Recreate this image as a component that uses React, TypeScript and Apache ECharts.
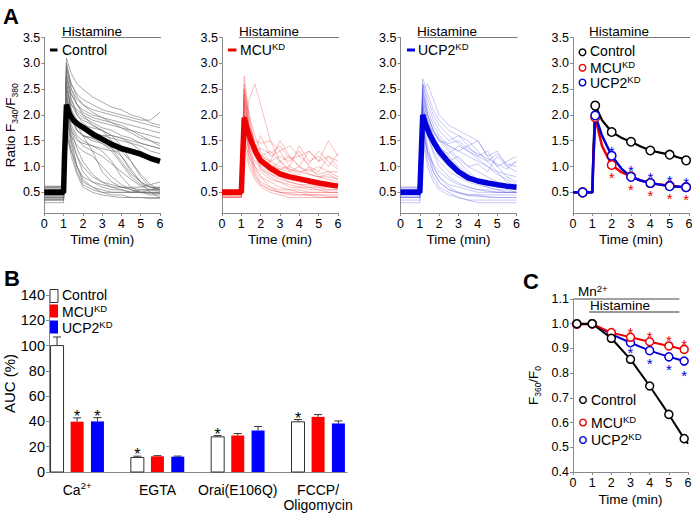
import React, { useEffect, useRef } from "react";
import * as echarts from "echarts";

const FONT = '"Liberation Sans", Arial, Helvetica, sans-serif';
const AXIS_COLOR = "#8a8a8a";

// ---------- Panel A: single-cell traces ----------
const TRACE_TIME = [0, 0.5, 1.0, 1.15, 1.4, 1.7, 2, 2.5, 3, 3.5, 4, 4.5, 5, 5.5, 6];

const controlTraces = [
  [0.55, 0.55, 0.56, 3.1, 2.8, 2.6, 2.5, 2.35, 2.25, 2.15, 2.1, 2.0, 1.95, 1.85, 1.8],
  [0.5, 0.5, 0.5, 2.9, 2.6, 2.4, 2.3, 2.2, 2.1, 2.05, 2.0, 1.95, 1.9, 1.9, 2.05],
  [0.45, 0.45, 0.46, 2.7, 2.4, 2.2, 2.05, 1.95, 1.9, 1.85, 1.8, 1.7, 1.6, 1.5, 1.4],
  [0.6, 0.6, 0.62, 2.5, 2.2, 2.1, 2.0, 1.9, 1.85, 1.8, 1.75, 1.7, 1.65, 1.6, 1.55],
  [0.4, 0.4, 0.4, 2.3, 2.0, 1.9, 1.8, 1.75, 1.7, 1.6, 1.55, 1.45, 1.3, 1.2, 1.15],
  [0.5, 0.5, 0.5, 2.8, 2.3, 2.0, 1.9, 1.8, 1.7, 1.5, 1.2, 0.9, 0.7, 0.6, 0.55],
  [0.35, 0.35, 0.35, 2.2, 1.8, 1.6, 1.5, 1.4, 1.3, 1.1, 0.8, 0.6, 0.5, 0.45, 0.45],
  [0.55, 0.55, 0.55, 2.6, 2.0, 1.7, 1.6, 1.55, 1.45, 1.3, 1.05, 0.8, 0.65, 0.6, 0.6],
  [0.45, 0.45, 0.45, 2.4, 1.6, 1.2, 0.9, 0.7, 0.6, 0.55, 0.55, 0.5, 0.5, 0.5, 0.5],
  [0.3, 0.3, 0.3, 2.0, 1.4, 1.0, 0.75, 0.6, 0.5, 0.45, 0.45, 0.4, 0.4, 0.4, 0.4],
  [0.6, 0.6, 0.6, 2.2, 1.5, 1.0, 0.7, 0.6, 0.55, 0.5, 0.5, 0.5, 0.5, 0.55, 0.6],
  [0.5, 0.5, 0.5, 1.8, 1.3, 0.9, 0.65, 0.55, 0.5, 0.5, 0.5, 0.5, 0.55, 0.55, 0.55],
  [0.4, 0.4, 0.4, 2.6, 2.1, 1.8, 1.6, 1.3, 0.9, 0.7, 0.6, 0.55, 0.5, 0.5, 0.5],
  [0.5, 0.5, 0.5, 3.0, 2.5, 2.2, 2.0, 1.8, 1.7, 1.6, 1.4, 1.1, 0.8, 0.6, 0.55],
  [0.55, 0.55, 0.55, 2.1, 1.7, 1.5, 1.45, 1.4, 1.35, 1.3, 1.3, 1.25, 1.2, 1.15, 1.1],
  [0.45, 0.45, 0.45, 1.6, 1.3, 1.0, 0.8, 0.7, 0.65, 0.6, 0.6, 0.6, 0.6, 0.65, 0.7],
  [0.35, 0.35, 0.35, 2.4, 1.9, 1.7, 1.6, 1.5, 1.45, 1.35, 1.2, 0.95, 0.7, 0.5, 0.4],
  [0.6, 0.6, 0.6, 2.9, 2.5, 2.3, 2.2, 2.1, 2.05, 2.0, 1.95, 1.9, 1.85, 1.8, 1.75],
  [0.5, 0.5, 0.5, 2.5, 2.1, 1.9, 1.75, 1.65, 1.6, 1.55, 1.5, 1.45, 1.4, 1.3, 1.25],
  [0.42, 0.42, 0.42, 2.0, 1.5, 1.2, 1.0, 0.8, 0.7, 0.65, 0.6, 0.58, 0.55, 0.55, 0.55],
  [0.55, 0.55, 0.55, 2.7, 2.3, 2.05, 1.95, 1.85, 1.75, 1.7, 1.6, 1.55, 1.45, 1.4, 1.35],
  [0.38, 0.38, 0.38, 1.9, 1.6, 1.4, 1.3, 1.2, 1.0, 0.8, 0.65, 0.55, 0.5, 0.5, 0.48],
  [0.52, 0.52, 0.52, 2.8, 2.4, 2.2, 2.1, 2.0, 1.95, 1.9, 1.85, 1.8, 1.75, 1.7, 1.65],
  [0.48, 0.48, 0.48, 2.3, 1.9, 1.7, 1.6, 1.55, 1.5, 1.4, 1.3, 1.1, 0.85, 0.65, 0.55],
  [0.58, 0.58, 0.58, 2.6, 2.2, 2.0, 1.85, 1.7, 1.55, 1.35, 1.1, 0.85, 0.7, 0.6, 0.58],
  [0.44, 0.44, 0.44, 2.2, 1.7, 1.35, 1.1, 0.85, 0.7, 0.6, 0.55, 0.5, 0.5, 0.48, 0.48],
  [0.36, 0.36, 0.36, 1.7, 1.2, 0.85, 0.6, 0.5, 0.45, 0.42, 0.4, 0.4, 0.4, 0.38, 0.38],
  [0.62, 0.62, 0.62, 3.0, 2.6, 2.35, 2.2, 2.05, 1.95, 1.85, 1.75, 1.65, 1.55, 1.5, 1.45],
  [0.5, 0.5, 0.5, 2.4, 2.0, 1.8, 1.7, 1.65, 1.6, 1.6, 1.55, 1.5, 1.45, 1.4, 1.35],
  [0.46, 0.46, 0.46, 2.1, 1.75, 1.55, 1.4, 1.3, 1.2, 1.05, 0.9, 0.75, 0.62, 0.55, 0.52],
];

const mcuTraces = [
  [0.5, 0.5, 0.5, 2.75, 2.0, 1.4, 1.1, 0.9, 0.8, 0.7, 0.65, 0.6, 0.6, 0.55, 0.55],
  [0.45, 0.45, 0.5, 1.8, 2.3, 2.6, 2.2, 1.5, 1.1, 0.9, 0.8, 0.75, 0.7, 0.7, 0.65],
  [0.55, 0.55, 0.55, 2.4, 1.8, 1.5, 1.45, 1.5, 1.3, 1.4, 1.2, 1.3, 1.1, 1.2, 1.0],
  [0.4, 0.4, 0.4, 2.2, 1.4, 1.0, 0.8, 0.6, 0.5, 0.45, 0.45, 0.45, 0.4, 0.4, 0.4],
  [0.5, 0.5, 0.5, 2.0, 1.6, 1.3, 1.2, 1.1, 1.5, 1.2, 1.0, 1.3, 1.1, 1.5, 1.2],
  [0.45, 0.45, 0.45, 1.6, 1.1, 0.8, 0.65, 0.55, 0.5, 0.5, 0.5, 0.45, 0.45, 0.45, 0.45],
  [0.55, 0.55, 0.55, 2.5, 2.0, 1.6, 1.3, 1.1, 1.0, 0.95, 0.9, 0.85, 0.8, 0.8, 0.75],
  [0.5, 0.5, 0.5, 1.9, 1.5, 1.3, 1.6, 1.2, 1.3, 1.0, 1.4, 1.1, 1.2, 1.0, 1.25],
  [0.4, 0.4, 0.4, 1.4, 1.0, 0.75, 0.6, 0.5, 0.45, 0.4, 0.4, 0.4, 0.4, 0.4, 0.4],
  [0.5, 0.5, 0.5, 2.3, 1.7, 1.3, 1.0, 0.85, 0.75, 0.7, 0.65, 0.65, 0.6, 0.6, 0.6],
  [0.55, 0.55, 0.55, 2.1, 1.5, 1.2, 1.1, 1.0, 0.95, 1.0, 0.9, 0.95, 0.85, 0.9, 0.8],
  [0.45, 0.45, 0.45, 1.7, 1.3, 1.0, 0.9, 0.75, 0.7, 0.6, 0.6, 0.55, 0.55, 0.5, 0.5],
  [0.5, 0.5, 0.5, 2.6, 1.9, 1.4, 1.2, 1.3, 1.1, 1.2, 1.0, 0.9, 1.0, 0.9, 0.9],
  [0.4, 0.4, 0.4, 2.0, 1.3, 0.9, 0.7, 0.6, 0.55, 0.55, 0.5, 0.5, 0.5, 0.5, 0.5],
  [0.5, 0.5, 0.5, 1.8, 1.4, 1.2, 1.0, 1.1, 1.2, 1.1, 1.3, 1.0, 0.9, 1.2, 1.1],
  [0.48, 0.48, 0.48, 2.2, 1.6, 1.25, 1.05, 0.9, 0.85, 0.8, 0.75, 0.7, 0.7, 0.65, 0.65],
  [0.42, 0.42, 0.42, 1.5, 1.2, 0.95, 0.8, 0.7, 0.6, 0.55, 0.55, 0.5, 0.5, 0.5, 0.5],
  [0.52, 0.52, 0.52, 2.4, 1.7, 1.2, 0.95, 0.8, 0.7, 0.65, 0.6, 0.6, 0.55, 0.55, 0.55],
  [0.47, 0.47, 0.47, 2.0, 1.5, 1.3, 1.35, 1.25, 1.4, 1.15, 1.2, 1.05, 1.3, 1.1, 0.95],
  [0.43, 0.43, 0.43, 1.9, 1.2, 0.85, 0.65, 0.55, 0.5, 0.48, 0.45, 0.45, 0.45, 0.42, 0.42],
  [0.55, 0.55, 0.55, 2.3, 1.8, 1.45, 1.25, 1.05, 0.95, 0.9, 1.0, 0.85, 0.8, 0.85, 0.75],
  [0.5, 0.5, 0.5, 1.7, 1.35, 1.1, 0.95, 0.85, 0.8, 0.75, 0.7, 0.7, 0.65, 0.65, 0.6],
  [0.46, 0.46, 0.46, 2.5, 1.8, 1.3, 1.05, 0.95, 1.1, 0.95, 0.85, 1.0, 0.8, 0.75, 0.7],
];

const ucp2Traces = [
  [0.55, 0.55, 0.55, 2.7, 2.4, 2.1, 1.9, 1.7, 1.6, 1.5, 1.3, 1.1, 0.9, 0.7, 0.6],
  [0.5, 0.5, 0.5, 2.5, 2.6, 2.3, 2.0, 1.8, 1.7, 1.6, 1.5, 1.2, 1.0, 1.1, 1.2],
  [0.45, 0.45, 0.45, 2.4, 2.0, 1.7, 1.5, 1.3, 1.1, 0.9, 0.75, 0.65, 0.6, 0.6, 0.55],
  [0.6, 0.6, 0.6, 2.2, 1.7, 1.4, 1.2, 1.0, 0.85, 0.75, 0.7, 0.65, 0.6, 0.6, 0.6],
  [0.4, 0.4, 0.4, 2.0, 1.4, 1.0, 0.8, 0.6, 0.5, 0.45, 0.45, 0.4, 0.4, 0.4, 0.4],
  [0.5, 0.5, 0.5, 1.8, 1.2, 0.9, 0.7, 0.55, 0.5, 0.45, 0.45, 0.45, 0.45, 0.45, 0.45],
  [0.55, 0.55, 0.55, 2.6, 2.2, 1.9, 1.7, 1.5, 1.6, 1.4, 1.5, 1.2, 1.3, 1.0, 1.1],
  [0.35, 0.35, 0.35, 1.6, 1.1, 0.8, 0.6, 0.5, 0.4, 0.35, 0.35, 0.35, 0.35, 0.35, 0.35],
  [0.5, 0.5, 0.5, 2.3, 1.9, 1.6, 1.4, 1.2, 1.0, 0.85, 0.7, 0.6, 0.55, 0.5, 0.5],
  [0.45, 0.45, 0.45, 2.1, 1.6, 1.3, 1.1, 0.9, 0.8, 0.7, 0.65, 0.6, 0.55, 0.55, 0.5],
  [0.6, 0.6, 0.6, 2.5, 2.1, 1.8, 1.6, 1.4, 1.3, 1.2, 1.1, 1.0, 0.9, 0.85, 0.8],
  [0.4, 0.4, 0.4, 1.9, 1.3, 1.0, 0.8, 0.65, 0.6, 0.55, 0.5, 0.5, 0.5, 0.5, 0.5],
  [0.5, 0.5, 0.5, 2.4, 2.0, 1.7, 1.5, 1.4, 1.3, 1.4, 1.2, 1.3, 1.0, 0.8, 0.7],
  [0.3, 0.3, 0.3, 1.5, 1.0, 0.7, 0.55, 0.45, 0.4, 0.35, 0.3, 0.3, 0.3, 0.3, 0.3],
  [0.55, 0.55, 0.55, 2.2, 1.8, 1.5, 1.3, 1.1, 1.2, 1.0, 1.05, 0.9, 1.2, 1.0, 0.9],
  [0.48, 0.48, 0.48, 2.0, 1.7, 1.5, 1.35, 1.25, 1.4, 1.3, 1.2, 1.1, 1.25, 1.05, 1.0],
  [0.42, 0.42, 0.42, 1.7, 1.3, 1.05, 0.9, 0.75, 0.65, 0.6, 0.55, 0.55, 0.5, 0.5, 0.5],
  [0.52, 0.52, 0.52, 2.6, 2.3, 2.0, 1.8, 1.6, 1.45, 1.3, 1.15, 1.0, 0.85, 0.75, 0.65],
  [0.47, 0.47, 0.47, 2.2, 1.6, 1.25, 1.0, 0.8, 0.68, 0.6, 0.55, 0.52, 0.5, 0.5, 0.5],
  [0.58, 0.58, 0.58, 2.3, 1.9, 1.65, 1.5, 1.45, 1.5, 1.35, 1.25, 1.15, 1.05, 0.95, 1.1],
  [0.4, 0.4, 0.4, 1.8, 1.25, 0.9, 0.7, 0.55, 0.48, 0.44, 0.42, 0.42, 0.4, 0.4, 0.4],
  [0.5, 0.5, 0.5, 2.1, 1.7, 1.4, 1.2, 1.0, 0.9, 0.8, 0.72, 0.65, 0.6, 0.58, 0.56],
  [0.55, 0.55, 0.55, 2.5, 2.0, 1.7, 1.55, 1.35, 1.15, 1.0, 0.9, 0.8, 0.7, 0.62, 0.6],
];

// Panel A: mean traces (thick)
const MEAN_TIME = [0, 0.5, 1.0, 1.05, 1.15, 1.3, 1.5, 1.75, 2, 2.5, 3, 3.5, 4, 4.5, 5, 5.5, 6];
const controlMean = [0.5, 0.5, 0.5, 1.2, 2.2, 2.02, 1.9, 1.82, 1.76, 1.63, 1.53, 1.43, 1.35, 1.3, 1.24, 1.16, 1.1];
const mcuMean = [0.5, 0.5, 0.5, 1.0, 1.95, 1.72, 1.5, 1.28, 1.12, 0.97, 0.86, 0.8, 0.76, 0.72, 0.68, 0.65, 0.62];
const ucp2Mean = [0.5, 0.5, 0.5, 1.0, 2.0, 1.82, 1.63, 1.45, 1.3, 1.08, 0.9, 0.78, 0.72, 0.68, 0.65, 0.62, 0.6];

// Panel A (right): summary
const SUMMARY_LINE_TIME = [0, 0.5, 1.0, 1.05, 1.15, 1.5, 2, 2.5, 3, 3.5, 4, 4.5, 5, 5.5, 6];
const controlSummaryLine = [0.5, 0.5, 0.5, 1.3, 2.18, 1.9, 1.67, 1.56, 1.48, 1.39, 1.31, 1.27, 1.23, 1.17, 1.12];
const mcuSummaryLine = [0.5, 0.5, 0.5, 1.1, 1.95, 1.4, 1.03, 0.89, 0.81, 0.73, 0.68, 0.65, 0.63, 0.61, 0.6];
const ucp2SummaryLine = [0.5, 0.5, 0.5, 1.1, 1.99, 1.6, 1.21, 0.96, 0.8, 0.73, 0.68, 0.65, 0.62, 0.61, 0.6];
const SUMMARY_MARK_TIME = [0.5, 1.15, 2, 3, 4, 5, 5.85];
const controlSummary = [0.5, 2.18, 1.67, 1.48, 1.31, 1.23, 1.12];
const controlSummaryErr = [0.02, 0.07, 0.04, 0.06, 0.06, 0.05, 0.05];
const mcuSummary = [0.5, 1.95, 1.03, 0.81, 0.68, 0.63, 0.6];
const ucp2Summary = [0.5, 1.99, 1.21, 0.8, 0.68, 0.62, 0.6];
const mcuSummaryStars = [[2, 0.85], [3, 0.62], [4, 0.5], [5, 0.44], [5.85, 0.42]];
const ucp2SummaryStars = [[2, 1.35], [3, 0.99], [4, 0.86], [5, 0.79], [5.85, 0.75]];
const HISTAMINE_A = [[0.88, 3.5], [6.05, 3.5]];

const RATIO_TICKS = [0.5, 1.0, 1.5, 2.0, 2.5, 3.0, 3.5];

// ---------- Panel B ----------
const B_CATEGORIES = ["Ca{sup|2+}", "EGTA", "Orai(E106Q)", "FCCP/\nOligomycin"];
const aucControl = [100, 11.5, 27.8, 39.7];
const aucControlErr = [6.8, 1.0, 1.0, 1.8];
const aucMcu = [39.8, 12.4, 28.9, 43.6];
const aucMcuErr = [3.0, 0.5, 1.5, 1.8];
const aucUcp2 = [40.0, 12.1, 32.8, 38.4];
const aucUcp2Err = [3.0, 0.5, 3.2, 2.0];
const aucControlSig = [0, 1, 1, 1];
const aucMcuSig = [1, 0, 0, 0];
const aucUcp2Sig = [1, 0, 0, 0];

// ---------- Panel C ----------
const MN_TIME = [0.2, 1, 2, 3, 4, 5, 5.8, 6];
const mnControl = [1.0, 1.0, 0.941, 0.856, 0.748, 0.633, 0.535, 0.515];
const mnMcu = [0.998, 0.999, 0.964, 0.945, 0.927, 0.91, 0.896, 0.893];
const mnUcp2 = [0.998, 0.999, 0.958, 0.923, 0.891, 0.866, 0.849, 0.846];
const mnMcuStars = [[3, 0.979], [4, 0.964], [5, 0.945], [5.8, 0.93]];
const mnUcp2Stars = [[3, 0.896], [4, 0.853], [5, 0.829], [5.8, 0.806]];
const MN_BAR = [[0.05, 1.1], [5.55, 1.1]];
const HISTAMINE_C = [[0.85, 1.047], [5.55, 1.047]];

// ---------- colours ----------
const RED = "#ee0000";
const BLUE = "#0000dd";

const pts = (xs: number[], ys: number[]) => xs.map((x, i) => [x, ys[i]]);

const tickText = { color: "#000", fontFamily: FONT, fontSize: 12.5 };
const nameText = { color: "#000", fontFamily: FONT, fontSize: 13.5 };

function timeAxis(gridIndex: number, nameGap = 19) {
  return {
    type: "value",
    gridIndex,
    min: 0,
    max: 6,
    interval: 1,
    axisLine: { show: true, onZero: false, lineStyle: { color: AXIS_COLOR, width: 1 } },
    axisTick: { show: true, length: 3, lineStyle: { color: AXIS_COLOR } },
    axisLabel: { ...tickText, margin: 4 },
    splitLine: { show: false },
    name: "Time (min)",
    nameLocation: "middle",
    nameGap,
    nameTextStyle: nameText,
  };
}

const subRich = { sub: { fontSize: 8.5, fontFamily: FONT, lineHeight: 10, verticalAlign: "bottom", color: "#000" } };

function ratioAxis(gridIndex: number, withName: boolean) {
  return {
    type: "value",
    gridIndex,
    min: 0.1,
    max: 3.5,
    axisLine: { show: true, onZero: false, lineStyle: { color: AXIS_COLOR, width: 1 } },
    axisTick: { show: true, length: 3, lineStyle: { color: AXIS_COLOR }, customValues: RATIO_TICKS },
    axisLabel: { ...tickText, margin: 4, customValues: RATIO_TICKS, formatter: (v: number) => v.toFixed(1) },
    splitLine: { show: false },
    name: withName ? "Ratio F{sub|340}/F{sub|380}" : "",
    nameLocation: "middle",
    nameGap: 25,
    nameTextStyle: { ...nameText, lineHeight: 18, rich: subRich },
  };
}

function traceSeries(traces: number[][], grid: number, color: string, width: number) {
  return traces.map((tr) => ({
    type: "line",
    xAxisIndex: grid,
    yAxisIndex: grid,
    data: pts(TRACE_TIME, tr),
    symbol: "none",
    silent: true,
    lineStyle: { color, width },
    z: 1,
  }));
}

function lineSeries(grid: number, xs: number[], ys: number[], color: string, width: number, z = 2) {
  return {
    type: "line",
    xAxisIndex: grid,
    yAxisIndex: grid,
    data: pts(xs, ys),
    symbol: "none",
    silent: true,
    lineStyle: { color, width },
    z,
  };
}

function barLine(grid: number, data: number[][], color: string, width: number) {
  return {
    type: "line",
    xAxisIndex: grid,
    yAxisIndex: grid,
    data,
    symbol: "none",
    clip: false,
    silent: true,
    lineStyle: { color, width },
    z: 2,
  };
}

function starSeries(grid: number, data: number[][], color: string) {
  return {
    type: "custom",
    xAxisIndex: grid,
    yAxisIndex: grid,
    data,
    silent: true,
    clip: false,
    z: 6,
    renderItem: (_p: any, api: any) => {
      const c = api.coord([api.value(0), api.value(1)]);
      return {
        type: "text",
        x: c[0],
        y: c[1] + 3.5,
        style: { text: "*", fill: color, fontSize: 15, fontFamily: FONT, align: "center", verticalAlign: "middle" },
      };
    },
  };
}

function markerSeries(grid: number, xs: number[], ys: number[], color: string, z: number) {
  return {
    type: "scatter",
    xAxisIndex: grid,
    yAxisIndex: grid,
    data: pts(xs, ys),
    symbol: "circle",
    symbolSize: 8.5,
    silent: true,
    itemStyle: { color: "#fff", borderColor: color, borderWidth: 1.5, opacity: 1 },
    z,
  };
}

const BAR_W = 13;
function aucSeries(values: number[], errs: number[], sig: number[], offset: number, fill: string, stroke: string) {
  return {
    type: "custom",
    xAxisIndex: 4,
    yAxisIndex: 4,
    data: values.map((v, k) => [k, v, errs[k], sig[k]]),
    silent: true,
    z: 3,
    renderItem: (_p: any, api: any) => {
      const k = api.value(0);
      const v = api.value(1);
      const e = api.value(2);
      const s = api.value(3);
      const c = api.coord([k + offset, v]);
      const b = api.coord([k + offset, 0]);
      const t = api.coord([k + offset, v + e]);
      const children: any[] = [
        { type: "line", shape: { x1: c[0], y1: c[1], x2: c[0], y2: t[1] }, style: { stroke: "#333", lineWidth: 1 } },
        { type: "line", shape: { x1: c[0] - 4, y1: t[1], x2: c[0] + 4, y2: t[1] }, style: { stroke: "#333", lineWidth: 1 } },
        {
          type: "rect",
          shape: { x: c[0] - BAR_W / 2, y: c[1], width: BAR_W, height: b[1] - c[1] },
          style: { fill, stroke, lineWidth: stroke === "none" ? 0 : 1 },
        },
      ];
      if (s) {
        children.push({
          type: "text",
          x: c[0],
          y: t[1] - 5 + 3.5,
          style: { text: "*", fill: "#000", fontSize: 16, fontFamily: FONT, align: "center", verticalAlign: "middle" },
        });
      }
      return { type: "group", children };
    },
  };
}

function buildOption() {
  const A_LEFT = [44, 222, 400.5, 573];
  const grids: any[] = A_LEFT.map((l) => ({ left: l, top: 37.5, width: 116, height: 175.5 }));
  grids.push({ left: 49, top: 295, width: 298, height: 177 });
  grids.push({ left: 573, top: 299, width: 115, height: 173 });

  const xAxes: any[] = [0, 1, 2, 3].map((i) => timeAxis(i));
  xAxes.push({
    type: "value",
    gridIndex: 4,
    min: -0.35,
    max: 3.36,
    axisLine: { show: true, onZero: false, lineStyle: { color: AXIS_COLOR, width: 1 } },
    axisTick: { show: false },
    axisLabel: {
      color: "#000",
      fontFamily: FONT,
      fontSize: 14,
      margin: 10,
      lineHeight: 15,
      customValues: [0, 1, 2, 3],
      formatter: (v: number) => B_CATEGORIES[Math.round(v)],
      rich: { sup: { fontSize: 9.5, fontFamily: FONT, lineHeight: 7, padding: [0, 0, 8, 0], color: "#000" } },
    },
    splitLine: { show: false },
  });
  xAxes.push(timeAxis(5, 20));

  const yAxes: any[] = [0, 1, 2, 3].map((i) => ratioAxis(i, i === 0));
  yAxes.push({
    type: "value",
    gridIndex: 4,
    min: 0,
    max: 140,
    interval: 20,
    axisLine: { show: true, onZero: false, lineStyle: { color: AXIS_COLOR, width: 1 } },
    axisTick: { show: true, length: 3, lineStyle: { color: AXIS_COLOR } },
    axisLabel: { color: "#000", fontFamily: FONT, fontSize: 14.5, margin: 4 },
    splitLine: { show: false },
    name: "AUC (%)",
    nameLocation: "middle",
    nameGap: 29,
    nameTextStyle: { color: "#000", fontFamily: FONT, fontSize: 15 },
  });
  yAxes.push({
    type: "value",
    gridIndex: 5,
    min: 0.4,
    max: 1.1,
    interval: 0.1,
    axisLine: { show: true, onZero: false, lineStyle: { color: AXIS_COLOR, width: 1 } },
    axisTick: { show: true, length: 3, lineStyle: { color: AXIS_COLOR } },
    axisLabel: { ...tickText, margin: 4, formatter: (v: number) => v.toFixed(1) },
    splitLine: { show: false },
    name: "F{sub|360}/F{sub|0}",
    nameLocation: "middle",
    nameGap: 31,
    nameTextStyle: { ...nameText, lineHeight: 18, rich: subRich },
  });

  const series: any[] = [
    // A1
    ...traceSeries(controlTraces, 0, "#707070", 0.6),
    lineSeries(0, MEAN_TIME, controlMean, "#000", 5.5, 3),
    barLine(0, HISTAMINE_A, "#777", 1.2),
    // A2
    ...traceSeries(mcuTraces, 1, "rgba(240,70,70,0.5)", 0.7),
    lineSeries(1, MEAN_TIME, mcuMean, RED, 5.5, 3),
    barLine(1, HISTAMINE_A, "#777", 1.2),
    // A3
    ...traceSeries(ucp2Traces, 2, "rgba(80,80,225,0.45)", 0.7),
    lineSeries(2, MEAN_TIME, ucp2Mean, BLUE, 5.5, 3),
    barLine(2, HISTAMINE_A, "#777", 1.2),
    // A4
    barLine(3, HISTAMINE_A, "#777", 1.2),
    lineSeries(3, SUMMARY_LINE_TIME, controlSummaryLine, "#000", 2.2, 2),
    lineSeries(3, SUMMARY_LINE_TIME, mcuSummaryLine, RED, 2.5, 2),
    lineSeries(3, SUMMARY_LINE_TIME, ucp2SummaryLine, BLUE, 2.5, 2),
    {
      type: "custom",
      xAxisIndex: 3,
      yAxisIndex: 3,
      data: SUMMARY_MARK_TIME.map((t, i) => [t, controlSummary[i], controlSummaryErr[i]]),
      silent: true,
      z: 3,
      renderItem: (_p: any, api: any) => {
        const x = api.value(0);
        const y = api.value(1);
        const e = api.value(2);
        const lo = api.coord([x, y - e]);
        const hi = api.coord([x, y + e]);
        const cap = 3;
        const st = { stroke: "#000", lineWidth: 1.2 };
        return {
          type: "group",
          children: [
            { type: "line", shape: { x1: lo[0], y1: lo[1], x2: hi[0], y2: hi[1] }, style: st },
            { type: "line", shape: { x1: lo[0] - cap, y1: lo[1], x2: lo[0] + cap, y2: lo[1] }, style: st },
            { type: "line", shape: { x1: hi[0] - cap, y1: hi[1], x2: hi[0] + cap, y2: hi[1] }, style: st },
          ],
        };
      },
    },
    markerSeries(3, SUMMARY_MARK_TIME, controlSummary, "#000", 4),
    markerSeries(3, SUMMARY_MARK_TIME, mcuSummary, RED, 5),
    markerSeries(3, SUMMARY_MARK_TIME, ucp2Summary, BLUE, 6),
    starSeries(3, mcuSummaryStars, RED),
    starSeries(3, ucp2SummaryStars, BLUE),
    // B
    aucSeries(aucControl, aucControlErr, aucControlSig, -0.25, "#fff", "#333"),
    aucSeries(aucMcu, aucMcuErr, aucMcuSig, 0, "#ff0000", "none"),
    aucSeries(aucUcp2, aucUcp2Err, aucUcp2Sig, 0.253, "#0000ff", "none"),
    // C
    barLine(5, MN_BAR, "#444", 1),
    barLine(5, HISTAMINE_C, "#999", 2),
  ];

  const cLine = (ys: number[], color: string, z: number) => ({
    type: "line",
    xAxisIndex: 5,
    yAxisIndex: 5,
    data: MN_TIME.map((t, i) =>
      i === MN_TIME.length - 1 ? { value: [t, ys[i]], symbol: "none" } : [t, ys[i]]
    ),
    symbol: "circle",
    symbolSize: 8,
    showAllSymbol: true,
    silent: true,
    lineStyle: { color, width: 2 },
    itemStyle: { color: "#fff", borderColor: color, borderWidth: 1.5 },
    z,
  });
  series.push(cLine(mnUcp2, BLUE, 3));
  series.push(cLine(mnMcu, RED, 4));
  series.push(cLine(mnControl, "#000", 5));
  series.push(starSeries(5, mnMcuStars, RED));
  series.push(starSeries(5, mnUcp2Stars, BLUE));

  const supG = { sup: { fontSize: 9.5, fontFamily: FONT, lineHeight: 7, padding: [0, 0, 7, 0], fill: "#000" } };
  const txt = (x: number, y: number, text: string, size = 14, extra: any = {}) => ({
    type: "text",
    x,
    y,
    silent: true,
    style: {
      text,
      fill: "#000",
      fontSize: size,
      fontFamily: FONT,
      verticalAlign: "middle",
      lineHeight: 14,
      rich: supG,
      ...extra,
    },
  });
  const rect = (x: number, y: number, w: number, h: number, fill: string, stroke = "none") => ({
    type: "rect",
    silent: true,
    shape: { x, y, width: w, height: h },
    style: { fill, stroke, lineWidth: stroke === "none" ? 0 : 1 },
  });
  const circ = (cx: number, cy: number, color: string) => ({
    type: "circle",
    silent: true,
    shape: { cx, cy, r: 3.3 },
    style: { fill: "#fff", stroke: color, lineWidth: 1.4 },
  });

  const graphic: any[] = [
    txt(3, 16, "A", 22, { fontWeight: "bold", lineHeight: 24 }),
    txt(4, 278, "B", 22, { fontWeight: "bold", lineHeight: 24 }),
    txt(523, 281, "C", 22, { fontWeight: "bold", lineHeight: 24 }),
    // histamine labels panel A
    txt(62, 31.5, "Histamine", 13.5),
    txt(239, 31.5, "Histamine", 13.5),
    txt(417, 31.5, "Histamine", 13.5),
    txt(589, 31.5, "Histamine", 13.5),
    // legends A1-A3
    rect(50, 48.5, 7.5, 3, "#000"),
    txt(62, 50, "Control"),
    rect(228, 48.5, 8.5, 3, RED),
    txt(240, 50, "MCU{sup|KD}"),
    rect(407, 48.5, 8, 3, BLUE),
    txt(418, 50, "UCP2{sup|KD}"),
    // legend A4
    circ(582.5, 52.3, "#000"),
    txt(590, 51.3, "Control"),
    circ(582.5, 67.7, RED),
    txt(590, 68, "MCU{sup|KD}"),
    circ(582.5, 82.5, BLUE),
    txt(590, 83, "UCP2{sup|KD}"),
    // legend B
    rect(50, 289.5, 8, 13, "#fff", "#333"),
    txt(62, 295, "Control"),
    rect(50, 304.5, 8, 13, "#ff0000"),
    txt(62, 311.5, "MCU{sup|KD}"),
    rect(50, 320.5, 8, 13, "#0000ff"),
    txt(62, 327.5, "UCP2{sup|KD}"),
    // panel C annotations
    txt(578, 291.5, "Mn{sup|2+}", 13.5),
    txt(590, 305, "Histamine", 13.5),
    circ(583, 400, "#000"),
    txt(591, 400, "Control"),
    circ(583, 422.5, RED),
    txt(591, 422.5, "MCU{sup|KD}"),
    circ(583, 440, BLUE),
    txt(591, 440, "UCP2{sup|KD}"),
  ];

  return {
    animation: false,
    backgroundColor: "#fff",
    textStyle: { fontFamily: FONT },
    grid: grids,
    xAxis: xAxes,
    yAxis: yAxes,
    series,
    graphic,
  };
}

export default function App() {
  const ref = useRef<HTMLDivElement>(null);
  useEffect(() => {
    if (!ref.current) return;
    const chart = echarts.init(ref.current, null, { renderer: "svg", width: 698, height: 514 });
    chart.setOption(buildOption() as any);
    return () => chart.dispose();
  }, []);
  return (
    <div
      ref={ref}
      style={{ position: "fixed", left: 0, top: 0, width: 698, height: 514, background: "#fff" }}
    />
  );
}
